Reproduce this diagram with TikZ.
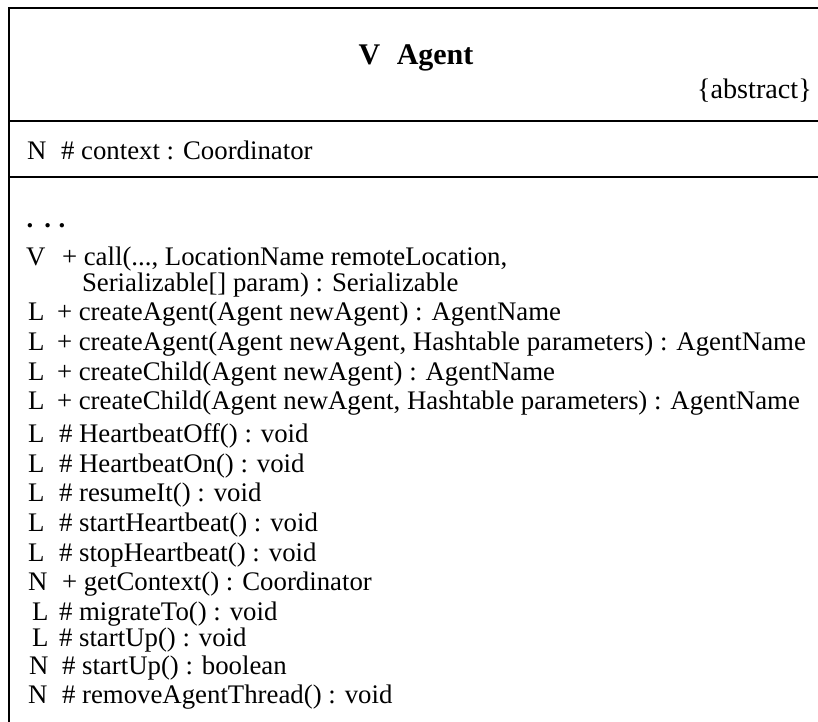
\documentclass[tikz,border=0pt]{standalone}
\usepackage{fontspec}
\setmainfont{Liberation Serif}
\begin{document}
\begin{tikzpicture}[x=1pt,y=-1pt,
  frame/.style={line width=2.4pt},
  txt/.style={anchor=base west, inner sep=0pt, outer sep=0pt,
    font=\fontsize{26.8}{30}\selectfont},
  titletxt/.style={anchor=base, inner sep=0pt,
    font=\fontsize{30}{34}\selectfont\bfseries},
  stereo/.style={anchor=base east, inner sep=0pt,
    font=\fontsize{28.2}{31}\selectfont}]
\useasboundingbox (0,0) rectangle (818,721);

% class box: frame and compartment separators (box runs past the page edge)
\coordinate (tl) at (9,8);
\coordinate (tr) at (840,8);
\coordinate (bl) at (9,740);
\coordinate (s1l) at (9,121);
\coordinate (s1r) at (840,121);
\coordinate (s2l) at (9,177);
\coordinate (s2r) at (840,177);
\draw[frame] (tr) -- (tl) -- (bl);
\draw[frame] (s1l) -- (s1r);
\draw[frame] (s2l) -- (s2r);

% name compartment
\node[titletxt] (title) at (416,64) {V\hspace{0.55em}Agent};
\node[stereo] (abs) at (812,98) {\{abstract\}};

% attribute compartment
\node[txt] (am) at (27,159) {N};
\node[txt] (as) at (61,159) {\# context : Coordinator};

% operation compartment
\node[txt] (dots) at (26.5,227) {\textbf{.\hspace{0.42em}.\hspace{0.28em}.}};
\foreach \n/\y/\mx/\m/\sx/\s in {
  call/265/26/V/62/{+ call(..., LocationName remoteLocation,},
  ca1/320/28/L/57/{+ createAgent(Agent newAgent) : AgentName},
  ca2/350/28/L/57/{+ createAgent(Agent newAgent, Hashtable parameters) : AgentName},
  cc1/380/28/L/57/{+ createChild(Agent newAgent) : AgentName},
  cc2/409/28/L/57/{+ createChild(Agent newAgent, Hashtable parameters) : AgentName},
  hoff/442/28/L/59/{\# HeartbeatOff() : void},
  hon/472/28/L/59/{\# HeartbeatOn() : void},
  res/501/28/L/59/{\# resumeIt() : void},
  shb/531/28/L/59/{\# startHeartbeat() : void},
  phb/561/28/L/59/{\# stopHeartbeat() : void},
  gc/590/28/N/62/{+ getContext() : Coordinator},
  mig/620/32/L/59/{\# migrateTo() : void},
  su1/646/32/L/59/{\# startUp() : void},
  su2/674/29/N/62/{\# startUp() : boolean},
  rat/703/28/N/62/{\# removeAgentThread() : void}}
{
  \node[txt] (\n-m) at (\mx,\y) {\m};
  \node[txt] (\n-s) at (\sx,\y) {\s};
}
\node[txt] (call-s2) at (82,291) {Serializable[] param) : Serializable};
\end{tikzpicture}
\end{document}
